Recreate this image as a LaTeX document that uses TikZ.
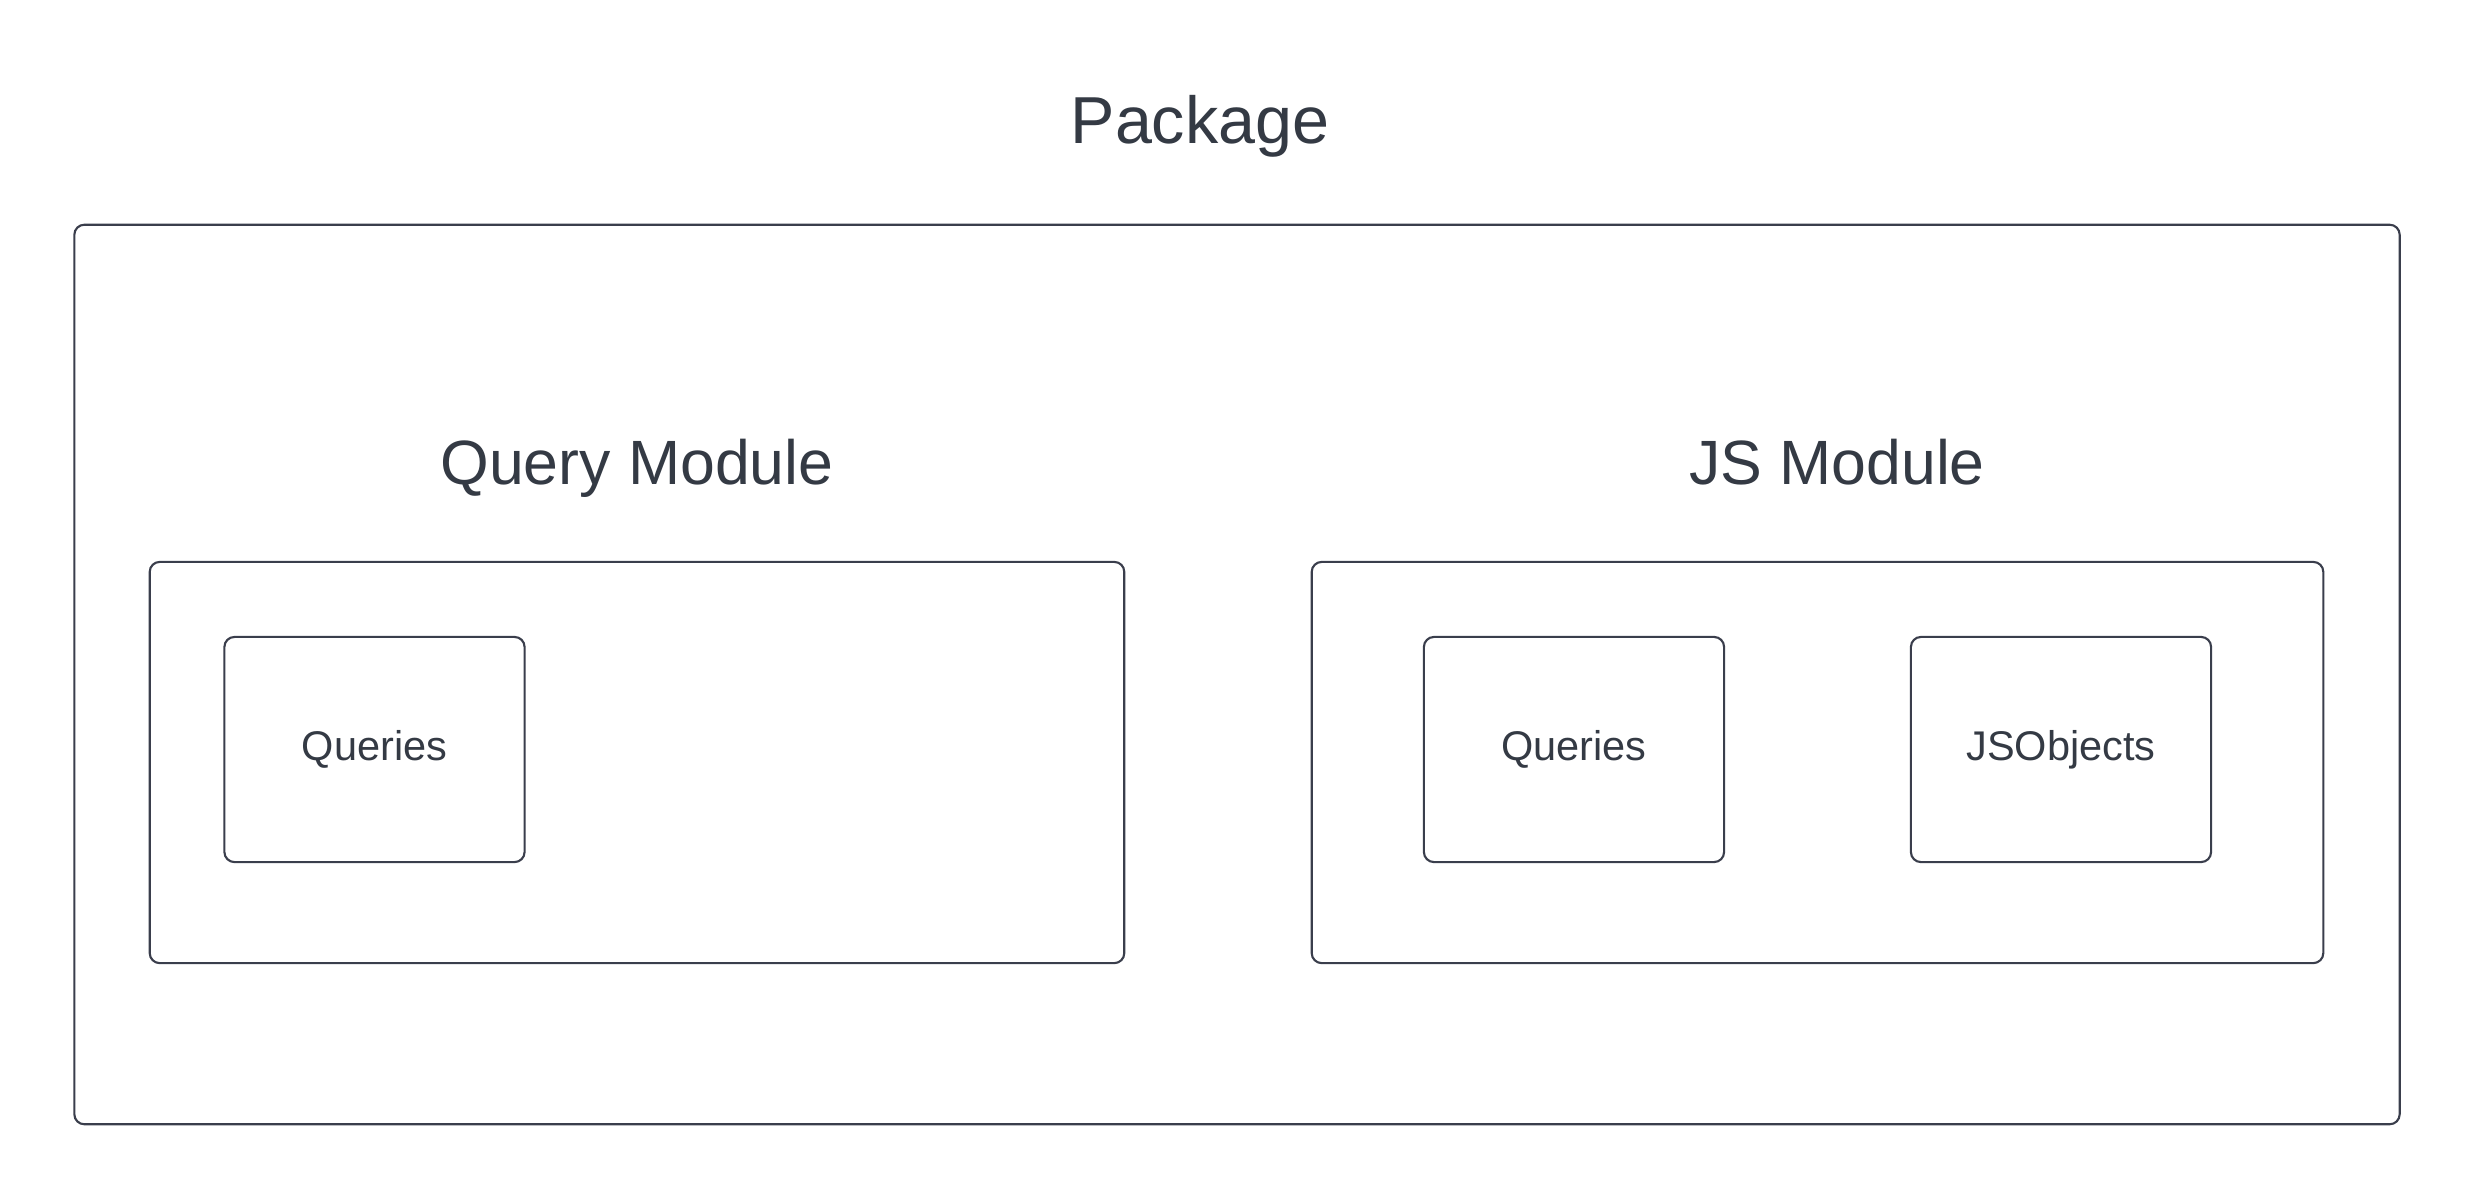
\documentclass[tikz,border=0pt]{standalone}
\usepackage{fontspec}
\setmainfont{Liberation Sans}
\definecolor{linec}{HTML}{3A3E4C}
\definecolor{textc}{HTML}{343A44}
\begin{document}
\begin{tikzpicture}[x=0.01cm,y=-0.01cm,
  box/.style={draw=linec, line width=0.6pt, rounded corners=0.1cm, inner sep=0pt, text=textc},
  leaf/.style={box, minimum width=3.0cm, minimum height=2.25cm, font=\fontsize{11.8}{13}\selectfont},
  bigtitle/.style={anchor=base, text=textc, inner sep=0pt, font=\fontsize{18.9}{22}\selectfont},
  modtitle/.style={anchor=base, text=textc, inner sep=0pt, font=\fontsize{17.8}{21}\selectfont}]
\useasboundingbox (0,0) rectangle (2475,1200);
\node[box, minimum width=23.24cm, minimum height=8.99cm] (pkg) at (1237,674.5) {};
\node[bigtitle] (pkgtitle) at (1200,143.5) {Package};
\node[box, minimum width=9.74cm, minimum height=4.01cm] (qmod) at (637,762.5) {};
\node[modtitle] (qtitle) at (637,484) {Query Module};
\node[box, minimum width=10.11cm, minimum height=4.01cm] (jsmod) at (1817.5,762.5) {};
\node[modtitle] (jstitle) at (1837,484) {JS Module};
\node[leaf] (q1) at (374.5,749.5) {Queries};
\node[leaf] (q2) at (1574,749.5) {Queries};
\node[leaf] (jso) at (2061,749.5) {JSObjects};
\end{tikzpicture}
\end{document}
